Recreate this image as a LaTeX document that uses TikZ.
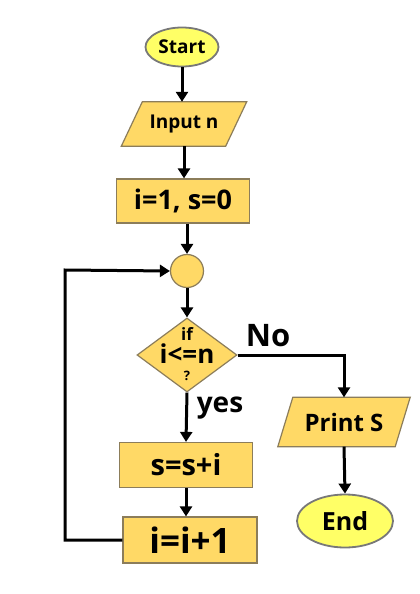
\documentclass[tikz,border=0pt]{standalone}
\usepackage{fontspec}
\setmainfont{Open Sans}
\usetikzlibrary{shapes.geometric,arrows.meta}
\definecolor{boxfill}{RGB}{255,217,102}
\definecolor{ovalfill}{RGB}{255,255,102}
\definecolor{ovalline}{RGB}{120,120,120}
\definecolor{boxline}{RGB}{140,125,90}
\begin{document}
\begin{tikzpicture}[x=1pt,y=-1pt,
  txt/.style={font=\bfseries\fontsize{#1}{#1}\selectfont, inner sep=0},
  oval/.style={ellipse, draw=ovalline, line width=1.8pt, fill=ovalfill, inner sep=0},
  procbox/.style={rectangle, draw=boxline, line width=1.2pt, fill=boxfill, inner sep=0},
  iobound/.style={rectangle, inner sep=0},
  ioshape/.style={draw=boxline, line width=1.2pt, fill=boxfill},
  decbox/.style={diamond, draw=boxline, line width=1.2pt, fill=boxfill, inner sep=0},
  conn/.style={line width=3pt, -{Triangle[length=10pt,width=12pt]}}
]
\useasboundingbox (0,0) rectangle (420,594);
\fill[white] (0,0) rectangle (420,594);

\node[oval, minimum width=73pt, minimum height=39pt] (start) at (182,47) {};
\node[txt=19] (starttxt) at (start.center) {Start};

\node[iobound, minimum width=125pt, minimum height=44pt] (input) at (184,124) {};
\draw[ioshape] ([xshift=21pt]input.north west) -- (input.north east)
  -- ([xshift=-21pt]input.south east) -- (input.south west) -- cycle;
\node[txt=19] (inputtxt) at (input.center) {Input n};

\node[procbox, minimum width=133pt, minimum height=44pt] (init) at (183,201) {};
\node[txt=27] (inittxt) at (init.center) {i=1, s=0};

\node[circle, draw=boxline, line width=1.2pt, fill=boxfill, minimum size=33pt, inner sep=0] (circ) at (187,271) {};

\node[decbox, minimum width=100pt, minimum height=74pt] (dec) at (187,355) {};
\node[txt=17] (iftxt) at (187,334) {if};
\node[txt=26] (condtxt) at (187,354) {i<=n};
\node[txt=13] (qtxt) at (187,376) {?};

\node[procbox, minimum width=133pt, minimum height=45pt] (sum) at (186,465) {};
\node[txt=29] (sumtxt) at (sum.center) {s=s+i};

\node[procbox, minimum width=134pt, minimum height=46pt] (inc) at (190,540) {};
\node[txt=35] (inctxt) at (inc.center) {i=i+1};

\node[iobound, minimum width=132pt, minimum height=49pt] (print) at (344,422) {};
\draw[ioshape] ([xshift=15pt]print.north west) -- (print.north east)
  -- ([xshift=-15pt]print.south east) -- (print.south west) -- cycle;
\node[txt=24] (printtxt) at (print.center) {Print S};

\node[oval, minimum width=96pt, minimum height=53pt] (end) at (345,521) {};
\node[txt=25] (endtxt) at (end.center) {End};

\node[txt=31] (nolbl) at (268,336) {No};
\node[txt=28] (yeslbl) at (220,408) {yes};

\coordinate (loopc) at (65,270);

\draw[conn] (start.south) -- (start.south |- input.north);
\draw[conn] (input.south) -- (input.south |- init.north);
\draw[conn] (circ.north |- init.south) -- (circ.north);
\draw[conn] (circ.south) -- (dec.north);
\draw[conn] (dec.south) -- (sum.north);
\draw[conn] (sum.south) -- (sum.south |- inc.north);
\draw[conn] (inc.west) -| (loopc) -- (circ.west);
\draw[conn] (dec.east) -| (print.north);
\draw[conn] (print.south) -- (end.north);
\end{tikzpicture}
\end{document}
